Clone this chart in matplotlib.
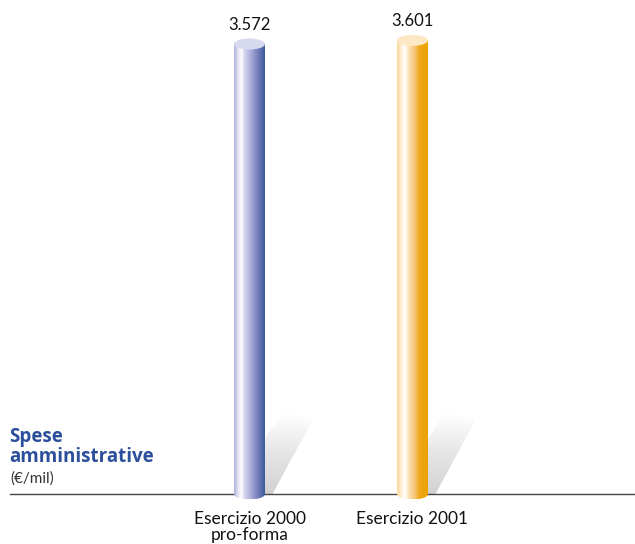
import numpy as np
import matplotlib
matplotlib.use("Agg")
import matplotlib.pyplot as plt
from matplotlib.colors import LinearSegmentedColormap
from matplotlib.patches import Ellipse, PathPatch, Polygon
from matplotlib.path import Path

categories = ["Esercizio 2000\npro-forma", "Esercizio 2001"]
values = [3572, 3601]
value_labels = ["3.572", "3.601"]
title = "Spese\namministrative"
unit = "(€/mil)"

plt.rcParams['font.family'] = ['Lato', 'DejaVu Sans']

# gradients (left -> right) and top colors for each cylinder
bar_cmaps = [
    LinearSegmentedColormap.from_list("blue", [
        (0.0, "#aeb2da"), (0.14, "#e6e7f5"), (0.24, "#ffffff"), (0.34, "#d4d6ee"),
        (0.55, "#a9acd8"), (0.75, "#7b82be"), (1.0, "#3b599f")]),
    LinearSegmentedColormap.from_list("orange", [
        (0.0, "#fbd69a"), (0.14, "#fff0d6"), (0.26, "#ffffff"), (0.38, "#fde2b4"),
        (0.58, "#f7c374"), (0.72, "#f0a81e"), (1.0, "#eca000")]),
]
top_colors = ["#d7d9ef", "#fde8c6"]
shadow_cmap = LinearSegmentedColormap.from_list(
    "shadow", [(0, "#ffffff"), (0.1, "#fbfbfb"), (0.5, "#e6e6e6"), (1, "#d2d2d2")])

W, H = 635, 544
fig = plt.figure(figsize=(W / 100, H / 100), dpi=100)
ax = fig.add_axes([0, 0, 1, 1])
ax.axis('off')

# pixel scales: categories 163 px apart, first centred at 249.5 px; baseline at 494 px
px_x = 1 / 163.0
px_y = 3572 / 450.0
ax.set_xlim(-249.5 * px_x, (W - 249.5) * px_x)
ax.set_ylim(-(H - 494) * px_y, 494 * px_y)

bw = 31 * px_x
eh = 11 * px_y

xs = np.arange(len(values))
for i, (x, v) in enumerate(zip(xs, values)):
    # shadow wedge behind the cylinder
    sh = np.array([[x + 5 * px_x, 0], [x + 23 * px_x, 0],
                   [x + 63 * px_x, 74 * px_y], [x + 33 * px_x, 82 * px_y],
                   [x + 5 * px_x, 40 * px_y]])
    poly = Polygon(sh, closed=True, facecolor='none', edgecolor='none', transform=ax.transData)
    ax.add_patch(poly)
    grad = np.linspace(0, 1, 100).reshape(-1, 1)
    im = ax.imshow(grad, cmap=shadow_cmap, aspect='auto', origin='upper',
                   extent=[sh[:, 0].min(), sh[:, 0].max(), 0, sh[:, 1].max()], zorder=1)
    im.set_clip_path(poly)

    # cylinder body
    t = np.linspace(np.pi, 2 * np.pi, 60)
    pts = [(x - bw / 2, v), (x - bw / 2, 0)]
    pts += list(zip(x + bw / 2 * np.cos(t), eh / 2 * np.sin(t)))
    pts += [(x + bw / 2, 0), (x + bw / 2, v), (x - bw / 2, v)]
    body = PathPatch(Path(pts), facecolor='none', edgecolor='none', transform=ax.transData)
    ax.add_patch(body)
    g = np.linspace(0, 1, 200).reshape(1, -1)
    im = ax.imshow(g, cmap=bar_cmaps[i], aspect='auto',
                   extent=[x - bw / 2, x + bw / 2, -eh / 2, v], zorder=2)
    im.set_clip_path(body)

    # top
    ax.add_patch(Ellipse((x, v), bw, eh, facecolor=top_colors[i], edgecolor='none', zorder=3))

    ax.annotate(value_labels[i], (x, v), xytext=(0, 10), textcoords='offset points',
                ha='center', va='baseline', fontsize=12, color='#111111')
    ax.annotate(categories[i], (x, 0), xytext=(0, -12), textcoords='offset points',
                ha='center', va='top', fontsize=12.5, color='#111111', linespacing=1.0)

ax.axhline(0, xmin=10 / W, xmax=1, color='#444444', lw=1.0, zorder=1.5)
ax.set_xlim(-249.5 * px_x, (W - 249.5) * px_x)
ax.set_ylim(-(H - 494) * px_y, 494 * px_y)
ax.set_aspect('auto')

fig.text(9 / W, 1 - 447 / H, title, ha='left', va='center', fontsize=13.5,
         fontweight='bold', color='#2b4f9b', linespacing=0.95,
         family=['Open Sans', 'DejaVu Sans'])
fig.text(10 / W, 1 - 479 / H, unit, ha='left', va='center', fontsize=11, color='#333333')

fig.savefig("out.png", dpi=100)
